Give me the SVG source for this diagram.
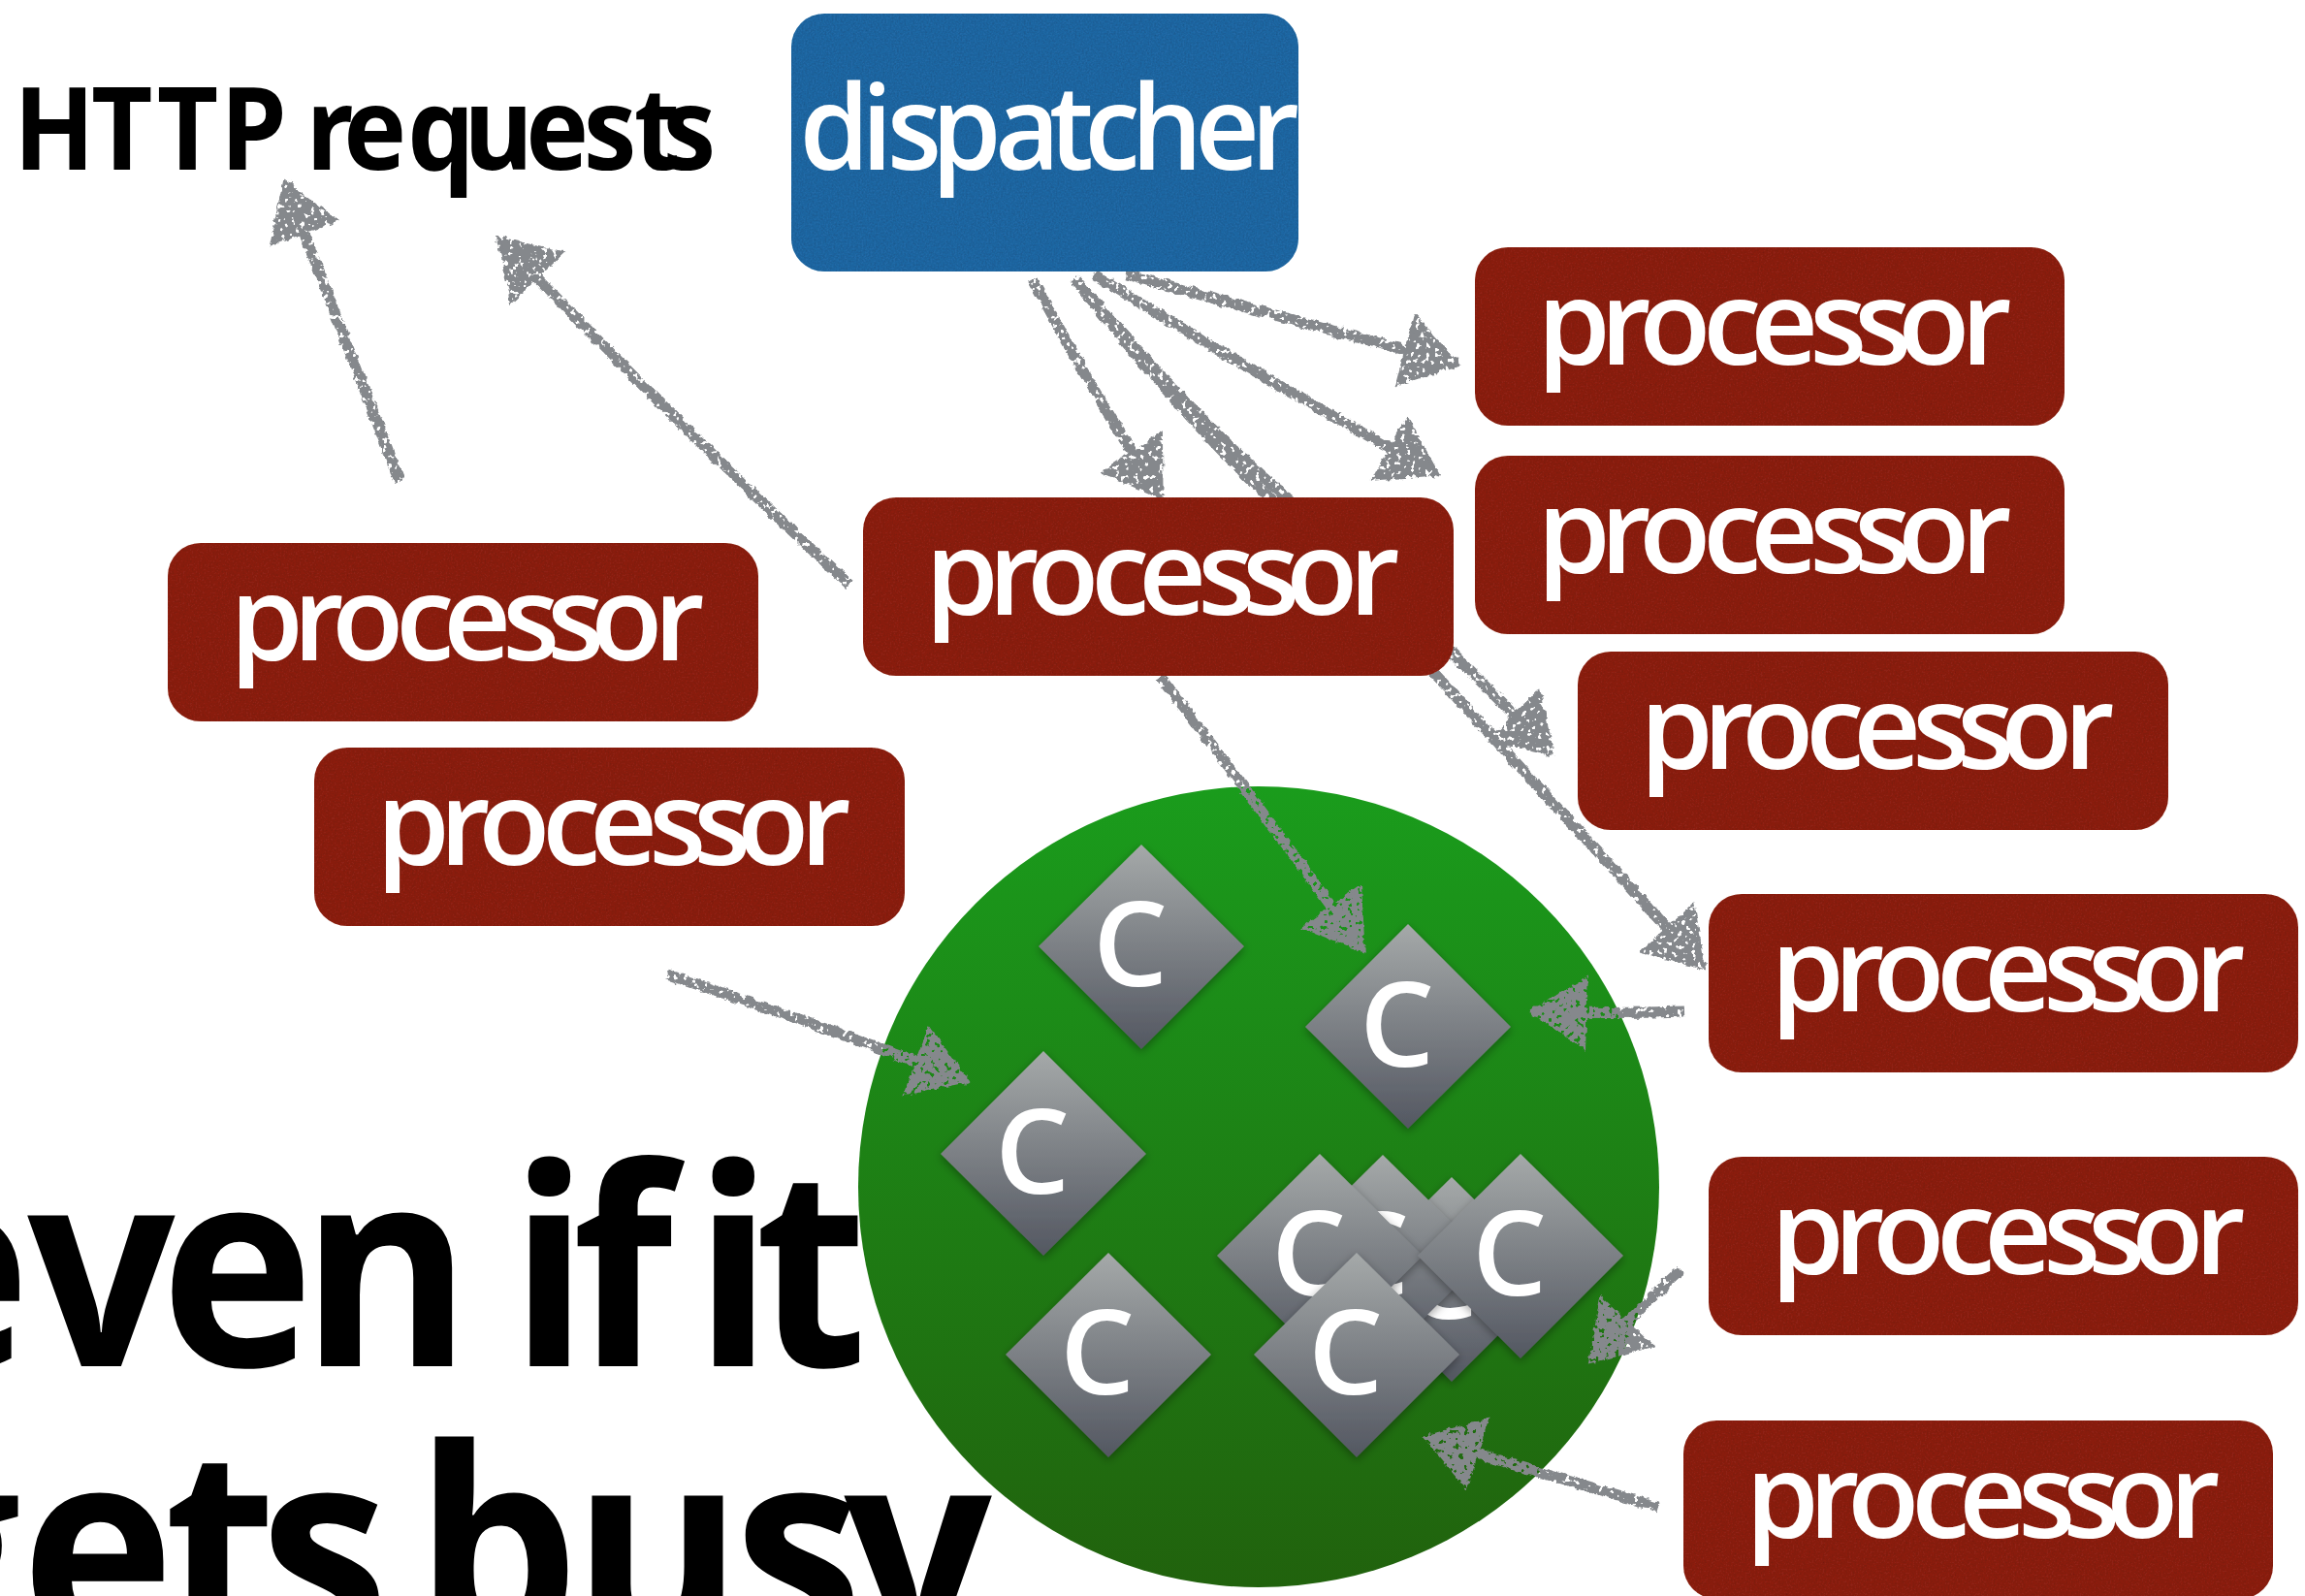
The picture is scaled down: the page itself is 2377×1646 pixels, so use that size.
<svg xmlns="http://www.w3.org/2000/svg" width="2377" height="1646" viewBox="0 0 2377 1646">
<defs>
<style>
text{font-family:"Open Sans","Noto Sans","Liberation Sans",sans-serif}
.proc{fill:#8e2315;filter:url(#grain)}
.disp{fill:#2169a6;filter:url(#grain)}
.lbl{font-size:122px;font-weight:650;fill:#fff}
.big{font-size:285px;font-weight:700;fill:#000}
.dia{fill:url(#dg);filter:url(#ds)}
.c{font-size:122px;font-weight:600;fill:#fff}
.arrow{fill:none;stroke:#85888c;stroke-width:11;stroke-linecap:butt;marker-end:url(#head)}
</style>
<linearGradient id="cg" x1="0" y1="0" x2="0" y2="1"><stop offset="0" stop-color="#1a9c1c"/><stop offset="1" stop-color="#21620d"/></linearGradient>
<linearGradient id="dg" x1="0" y1="0" x2="0" y2="1"><stop offset="0" stop-color="#a5a9a9"/><stop offset="1" stop-color="#535761"/></linearGradient>
<filter id="ds" x="-20%" y="-20%" width="140%" height="140%"><feDropShadow dx="0" dy="3" stdDeviation="5" flood-color="#000" flood-opacity=".35"/></filter>
<filter id="grain" x="0" y="0" width="100%" height="100%">
<feTurbulence type="fractalNoise" baseFrequency=".55" numOctaves="2" seed="4" result="n"/>
<feColorMatrix in="n" type="matrix" values="0 0 0 0 0 0 0 0 0 0 0 0 0 0 0 0 0 0 .5 -.17" result="d"/>
<feComposite in="d" in2="SourceGraphic" operator="in" result="dd"/>
<feMerge><feMergeNode in="SourceGraphic"/><feMergeNode in="dd"/></feMerge>
</filter>
<filter id="chalk" x="0" y="0" width="2377" height="1646" filterUnits="userSpaceOnUse">
<feTurbulence type="fractalNoise" baseFrequency=".13" numOctaves="3" seed="7" result="w"/>
<feDisplacementMap in="SourceGraphic" in2="w" scale="6" xChannelSelector="R" yChannelSelector="G" result="r"/>
<feTurbulence type="fractalNoise" baseFrequency=".2" numOctaves="2" seed="11"/>
<feColorMatrix type="matrix" values="0 0 0 0 0 0 0 0 0 0 0 0 0 0 0 0 0 0 -16 10.8" result="h"/>
<feComposite in="r" in2="h" operator="in"/>
</filter>
<marker id="head" markerUnits="userSpaceOnUse" markerWidth="80" markerHeight="90" refX="58" refY="40" orient="auto">
<path d="M4 4L60 40L4 76Z" fill="#85888c" stroke="#85888c" stroke-width="3"/>
</marker>
</defs>
<rect width="2377" height="1646" fill="#fff"/>
<g id="title">
<text class="big" transform="scale(.94 1)" y="1409" x="-135 30 176 330 511 559 628 745 761 828">even if it</text>
<text class="big" transform="scale(.94 1)" y="1698" x="-138 23 180 285 426 455 628 805 926">gets busy</text>
</g>
<g id="http-requests"><text transform="scale(.93 1)" y="175" font-size="118" font-weight="700" fill="#000" x="15 101 174 244 323 339 381 452 514 583 647 703 735">HTTP requests</text></g>
<g id="cluster"><circle cx="1298" cy="1224" r="413" fill="url(#cg)"/></g>
<g id="c1"><polygon class="dia" points="1177,871 1283,976 1177,1082 1071,976"/><text class="c" x="1127" y="1017">C</text></g>
<g id="c2"><polygon class="dia" points="1452,953 1558,1059 1452,1164 1346,1059"/><text class="c" x="1402" y="1100">C</text></g>
<g id="c3"><polygon class="dia" points="1076,1084 1182,1190 1076,1295 970,1190"/><text class="c" x="1026" y="1231">C</text></g>
<g id="c4"><polygon class="dia" points="1143,1292 1249,1397 1143,1503 1037,1397"/><text class="c" x="1093" y="1438">C</text></g>
<g id="c5"><polygon class="dia" points="1497,1214 1603,1319 1497,1425 1391,1319"/><text class="c" x="1447" y="1360">C</text></g>
<g id="c6"><polygon class="dia" points="1426,1191 1532,1296 1426,1402 1320,1296"/><text class="c" x="1376" y="1337">C</text></g>
<g id="c7"><polygon class="dia" points="1361,1190 1467,1295 1361,1401 1255,1295"/><text class="c" x="1311" y="1336">C</text></g>
<g id="c8"><polygon class="dia" points="1568,1190 1674,1295 1568,1401 1462,1295"/><text class="c" x="1518" y="1336">C</text></g>
<g id="c9"><polygon class="dia" points="1399,1292 1505,1397 1399,1503 1293,1397"/><text class="c" x="1349" y="1438">C</text></g>
<g id="connectors" filter="url(#chalk)">
<path class="arrow" d="M412 496Q365 375 294 189"/>
<path class="arrow" d="M876 603Q700 440 516 247"/>
<path class="arrow" d="M1065 288Q1130 410 1197 512"/>
<path class="arrow" d="M1108 287Q1240 440 1323 510L1495 671L1600 776"/>
<path class="arrow" d="M1108 287Q1220 430 1306 510L1478 693L1756 997"/>
<path class="arrow" d="M1128 283Q1300 390 1481 488"/>
<path class="arrow" d="M1162 283Q1330 330 1502 375"/>
<path class="arrow" d="M1197 698Q1290 820 1405 979"/>
<path class="arrow" d="M688 1005Q840 1055 996 1114"/>
<path class="arrow" d="M1737 1043Q1660 1046 1581 1043"/>
<path class="arrow" d="M1733 1310Q1690 1350 1641 1403"/>
<path class="arrow" d="M1710 1554Q1590 1520 1471 1483"/>
</g>
<g id="dispatcher"><rect class="disp" x="816" y="14" width="523" height="266" rx="34"/><text class="lbl" transform="scale(.95 1)" y="175" x="868 935 963 1011 1080 1139 1177 1228 1297 1358">dispatcher</text></g>
<g id="p1"><rect class="proc" x="1521" y="255" width="608" height="184" rx="34"/><text class="lbl" transform="translate(1585 376)" x="0 65 105 171 220 281 327 372 437">processor</text></g>
<g id="p2"><rect class="proc" x="1521" y="470" width="608" height="184" rx="34"/><text class="lbl" transform="translate(1585 591)" x="0 65 105 171 220 281 327 372 437">processor</text></g>
<g id="p3"><rect class="proc" x="1627" y="672" width="609" height="184" rx="34"/><text class="lbl" transform="translate(1691 793)" x="0 65 105 171 220 281 327 372 437">processor</text></g>
<g id="p4"><rect class="proc" x="890" y="513" width="609" height="184" rx="34"/><text class="lbl" transform="translate(954 634)" x="0 65 105 171 220 281 327 372 437">processor</text></g>
<g id="p5"><rect class="proc" x="173" y="560" width="609" height="184" rx="34"/><text class="lbl" transform="translate(237 681)" x="0 65 105 171 220 281 327 372 437">processor</text></g>
<g id="p6"><rect class="proc" x="324" y="771" width="609" height="184" rx="34"/><text class="lbl" transform="translate(388 892)" x="0 65 105 171 220 281 327 372 437">processor</text></g>
<g id="p7"><rect class="proc" x="1762" y="922" width="608" height="184" rx="34"/><text class="lbl" transform="translate(1826 1043)" x="0 65 105 171 220 281 327 372 437">processor</text></g>
<g id="p8"><rect class="proc" x="1762" y="1193" width="608" height="184" rx="34"/><text class="lbl" transform="translate(1826 1314)" x="0 65 105 171 220 281 327 372 437">processor</text></g>
<g id="p9"><rect class="proc" x="1736" y="1465" width="608" height="184" rx="34"/><text class="lbl" transform="translate(1800 1586)" x="0 65 105 171 220 281 327 372 437">processor</text></g>
</svg>
